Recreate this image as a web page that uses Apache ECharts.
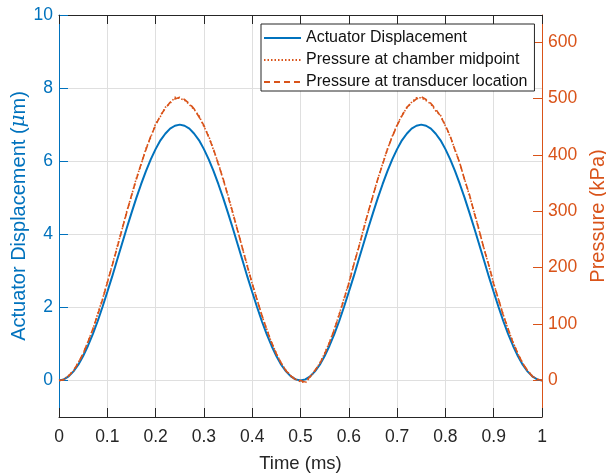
<!DOCTYPE html>
<html>
<head>
<meta charset="utf-8">
<script src="https://cdn.jsdelivr.net/npm/echarts@6/dist/echarts.min.js"></script>
<style>
  html, body { margin: 0; padding: 0; background: #fff; }
  #chart { width: 606px; height: 476px; }
</style>
</head>
<body>
<div id="chart"></div>
<script>
// Sample grid (ms), one sample every 0.01 ms
const timeStep = 0.01;

// Actuator displacement (µm)
const displacement = [
  0.00, 0.03, 0.11, 0.25, 0.43, 0.67, 0.95, 1.27, 1.62, 2.01,
  2.42, 2.84, 3.28, 3.72, 4.16, 4.58, 4.99, 5.37, 5.73, 6.05,
  6.33, 6.57, 6.75, 6.89, 6.97, 7.00, 6.97, 6.89, 6.75, 6.57,
  6.33, 6.05, 5.73, 5.37, 4.99, 4.58, 4.16, 3.72, 3.28, 2.84,
  2.42, 2.01, 1.62, 1.27, 0.95, 0.67, 0.43, 0.25, 0.11, 0.03,
  0.00,
  0.03, 0.11, 0.25, 0.43, 0.67, 0.95, 1.27, 1.62, 2.01, 2.42,
  2.84, 3.28, 3.72, 4.16, 4.58, 4.99, 5.37, 5.73, 6.05, 6.33,
  6.57, 6.75, 6.89, 6.97, 7.00, 6.97, 6.89, 6.75, 6.57, 6.33,
  6.05, 5.73, 5.37, 4.99, 4.58, 4.16, 3.72, 3.28, 2.84, 2.42,
  2.01, 1.62, 1.27, 0.95, 0.67, 0.43, 0.25, 0.11, 0.03, 0.00
];

// Pressure at chamber midpoint (kPa)
const pressureMidpoint = [
  0, 2, 9, 17, 32, 47, 69, 90, 118, 144,
  174, 204, 236, 266, 299, 327, 358, 383, 411, 431,
  455, 468, 484, 491, 502, 500, 497, 489, 480, 469,
  450, 433, 408, 385, 355, 328, 296, 266, 233, 204,
  171, 144, 115, 91, 67, 48, 30, 18, 8, 2,
  -2,
  -4, 6, 17, 31, 48, 68, 91, 117, 145, 173,
  205, 235, 267, 297, 328, 357, 384, 410, 433, 453,
  470, 483, 493, 501, 501, 496, 490, 478, 470, 451,
  432, 409, 384, 356, 327, 297, 265, 234, 203, 172,
  143, 116, 90, 68, 47, 31, 17, 8, 2, 0
];

// Pressure at transducer location (kPa)
const pressureTransducer = [
  0, 1, 8, 18, 31, 48, 68, 91, 116, 143,
  173, 203, 234, 266, 297, 328, 356, 384, 409, 433,
  452, 470, 482, 493, 499, 502, 498, 491, 481, 467,
  452, 431, 410, 383, 357, 326, 297, 265, 234, 202,
  172, 143, 116, 90, 68, 47, 31, 17, 8, 1,
  0,
  -3, 7, 18, 30, 47, 67, 90, 116, 144, 172,
  204, 234, 266, 298, 327, 357, 383, 410, 432, 452,
  469, 484, 492, 499, 503, 498, 491, 481, 468, 452,
  433, 408, 385, 355, 329, 296, 266, 233, 204, 171,
  144, 115, 91, 67, 48, 30, 18, 7, 2, 0
];

// Tick values
const timeTicks = [0, 0.1, 0.2, 0.3, 0.4, 0.5, 0.6, 0.7, 0.8, 0.9, 1];
const dispTicks = [0, 2, 4, 6, 8, 10];
const pressureTicks = [0, 100, 200, 300, 400, 500, 600];

const BLUE = '#0072BD';
const ORANGE = '#D95319';
const INK = '#262626';
const GRID_COLOR = '#dfdfdf';
const FONT = '"Liberation Sans", Arial, Helvetica, sans-serif';
const TICK_FONT = 17.5;

const toPairs = (vals) => vals.map((v, i) => [Math.round(i * timeStep * 100) / 100, v]);

const chart = echarts.init(document.getElementById('chart'), null, { renderer: 'canvas' });

const xBase = {
  type: 'value',
  min: timeTicks[0],
  max: timeTicks[timeTicks.length - 1],
  interval: 0.1
};

chart.setOption({
  animation: false,
  backgroundColor: '#fff',
  grid: { left: 59, right: 64, top: 15, bottom: 59, containLabel: false, outerBoundsMode: 'none' },
  legend: {
    orient: 'vertical',
    left: 261,
    top: 24,
    padding: [6, 7, 1, 2],
    itemGap: 6,
    itemWidth: 37,
    itemHeight: 14,
    borderColor: INK,
    borderWidth: 1,
    backgroundColor: '#fff',
    borderRadius: 0,
    itemStyle: { opacity: 0 },
    textStyle: { fontSize: 16, fontFamily: FONT, color: '#111' },
    data: ['Actuator Displacement', 'Pressure at chamber midpoint', 'Pressure at transducer location']
  },
  xAxis: [
    Object.assign({}, xBase, {
      position: 'bottom',
      name: 'Time (ms)',
      nameLocation: 'middle',
      nameGap: 37,
      nameMoveOverlap: false,
      nameTextStyle: { color: INK, fontSize: 18.5, fontFamily: FONT },
      axisLine: { show: true, onZero: false, lineStyle: { color: INK, width: 1 } },
      axisTick: { show: true, inside: true, length: 9, lineStyle: { color: INK, width: 1 } },
      axisLabel: { color: INK, fontSize: TICK_FONT, fontFamily: FONT, margin: 11 },
      splitLine: { show: true, lineStyle: { color: GRID_COLOR, width: 1 } }
    }),
    Object.assign({}, xBase, {
      position: 'top',
      axisLine: { show: true, onZero: false, lineStyle: { color: INK, width: 1 } },
      axisTick: { show: true, inside: true, length: 9, lineStyle: { color: INK, width: 1 } },
      axisLabel: { show: false },
      splitLine: { show: false }
    })
  ],
  yAxis: [
    {
      type: 'value',
      position: 'left',
      min: -1,
      max: 10,
      name: 'Actuator Displacement ({i|μ}m)',
      nameLocation: 'middle',
      nameRotate: 90,
      nameGap: 30,
      nameMoveOverlap: false,
      nameTextStyle: {
        color: BLUE, fontSize: 20, fontFamily: FONT,
        rich: { i: { color: BLUE, fontSize: 20, fontFamily: '"DejaVu Serif", serif', fontStyle: 'italic' } }
      },
      axisLine: { show: true, onZero: false, lineStyle: { color: BLUE, width: 1 } },
      axisTick: { show: true, inside: true, length: 9, customValues: dispTicks, lineStyle: { color: BLUE, width: 1 } },
      axisLabel: { color: BLUE, fontSize: TICK_FONT, fontFamily: FONT, margin: 6, customValues: dispTicks },
      splitLine: { show: true, lineStyle: { color: GRID_COLOR, width: 1 } }
    },
    {
      type: 'value',
      position: 'right',
      min: -64.78,
      max: 647.8,
      name: 'Pressure (kPa)',
      nameLocation: 'middle',
      nameRotate: 90,
      nameGap: 41,
      nameTextStyle: { color: ORANGE, fontSize: 20, fontFamily: FONT },
      axisLine: { show: true, onZero: false, lineStyle: { color: ORANGE, width: 1 } },
      axisTick: { show: true, inside: true, length: 9, customValues: pressureTicks, lineStyle: { color: ORANGE, width: 1 } },
      axisLabel: { color: ORANGE, fontSize: TICK_FONT, fontFamily: FONT, margin: 6, customValues: pressureTicks },
      splitLine: { show: false }
    }
  ],
  series: [
    {
      name: 'Actuator Displacement',
      type: 'line',
      xAxisIndex: 0,
      yAxisIndex: 0,
      symbol: 'none',
      data: toPairs(displacement),
      lineStyle: { color: BLUE, width: 2 },
      itemStyle: { color: BLUE },
      z: 3
    },
    {
      name: 'Pressure at chamber midpoint',
      type: 'line',
      xAxisIndex: 0,
      yAxisIndex: 1,
      symbol: 'none',
      data: toPairs(pressureMidpoint),
      lineStyle: { color: ORANGE, width: 1.6, type: [1.5, 2] },
      itemStyle: { color: ORANGE },
      z: 4
    },
    {
      name: 'Pressure at transducer location',
      type: 'line',
      xAxisIndex: 0,
      yAxisIndex: 1,
      symbol: 'none',
      data: toPairs(pressureTransducer),
      lineStyle: { color: ORANGE, width: 1.6, type: [6, 4] },
      itemStyle: { color: ORANGE },
      z: 4
    }
  ]
});
</script>
</body>
</html>
